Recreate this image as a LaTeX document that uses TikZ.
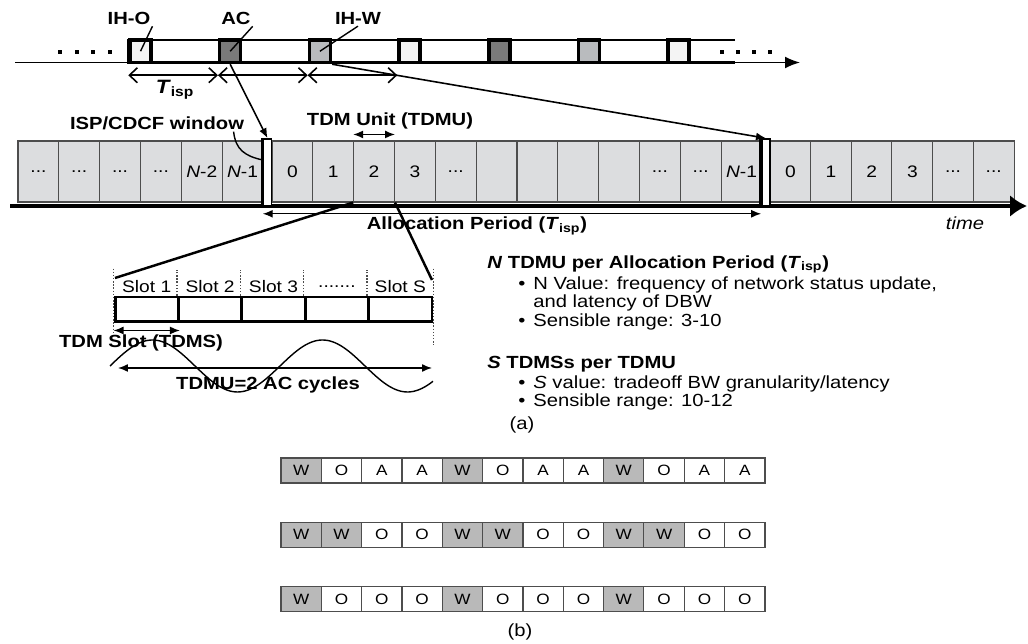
\documentclass[tikz,border=0pt]{standalone}
\usepackage{fontspec}
\setmainfont{Liberation Sans}[FakeStretch=1.15]
\usetikzlibrary{arrows.meta, positioning, calc}
\definecolor{ihLight}{HTML}{F4F4F4}
\definecolor{acDark}{HTML}{7A7A7A}
\definecolor{ihMid}{HTML}{B9BBBE}
\definecolor{cellGray}{HTML}{DCDDDF}
\definecolor{cellEdge}{HTML}{4D4D4D}
\definecolor{wGray}{HTML}{B9B9B9}
\newcommand{\ddd}{...}
\newcommand{\sdots}{.......}

\begin{document}
\begin{tikzpicture}[x=0.02cm, y=-0.02cm,
  blk/.style={draw, line width=2pt, minimum width=0.42cm, minimum height=0.45cm, inner sep=0pt},
  cell/.style={draw=cellEdge, fill=cellGray, line width=0.6pt, minimum width=0.816cm, minimum height=1.22cm, inner sep=0pt, font=\fontsize{9.5}{11}\selectfont},
  win/.style={draw, fill=white, line width=0.9pt, minimum width=0.16cm, minimum height=1.34cm, inner sep=0pt},
  lbl/.style={font=\bfseries\fontsize{10}{12}\selectfont, inner sep=1pt},
  slot/.style={draw, line width=1.7pt, minimum width=1.268cm, minimum height=0.5cm, inner sep=0pt},
  slotlbl/.style={font=\fontsize{9.5}{11}\selectfont, inner sep=0pt},
  bcell/.style={draw=cellEdge, line width=0.6pt, minimum width=0.807cm, minimum height=0.5cm, inner sep=0pt, font=\fontsize{8.5}{10}\selectfont},
  cellW/.style={fill=wGray}, cellO/.style={fill=white}, cellA/.style={fill=white},
  hd/.style={font=\bfseries\fontsize{10}{12}\selectfont, anchor=west, inner sep=0pt, text height=1.8ex, text depth=0.5ex},
  txt/.style={font=\fontsize{10}{12}\selectfont, anchor=west, inner sep=0pt, text height=1.8ex, text depth=0.5ex},
  barb/.style={line width=0.9pt, {Straight Barb[length=1.6mm,width=3mm]}-{Straight Barb[length=1.6mm,width=3mm]}},
  dbl/.style={line width=0.8pt, {Latex[length=2mm,width=1.6mm]}-{Latex[length=2mm,width=1.6mm]}},
  ptr/.style={line width=0.9pt, -{Latex[length=2mm,width=1.6mm]}},
  lead/.style={line width=0.8pt},
  guide/.style={densely dotted, line width=0.8pt, black!70},
]
  \useasboundingbox (0,0) rectangle (1028,644);

  \draw[line width=1pt, -{Latex[length=3mm,width=2.4mm]}] (15,62.5) -- (800,62.5);
  \draw[line width=1.5pt] (735,40) -- (128,40) -- (128,62.5) -- (735,62.5);
  \foreach \c [count=\i from 0] in {ihLight,acDark,ihMid,ihLight,acDark,ihMid,ihLight}
    \node[blk, fill=\c] (b\i) at ({140.5+89.7*\i},51.25) {};
  \foreach \x in {60,76.7,93.3,110,722,738,754,770}
    \fill (\x-2,50) rectangle (\x+2,54);

  \node[lbl] (iho) at (129,18) {IH-O};
  \node[lbl] (ac) at (236,18) {AC};
  \node[lbl] (ihw) at (358,18) {IH-W};
  \draw[lead] (iho.south east) -- (b0.center);
  \draw[lead] (ac.south east) -- (b1.center);
  \draw[lead] (ihw.south) -- (b2.center);

  \foreach \i/\j in {0/1,1/2,2/3}
    \draw[barb] ([yshift=-0.22cm]b\i.south west) -- ([yshift=-0.22cm]b\j.south west);
  \node[lbl, font=\bfseries\fontsize{11}{13}\selectfont] (tisp) at (175,90) {\textit{T}\textsubscript{isp}};

  \foreach \t [count=\i from 0] in {\ddd,\ddd,\ddd,\ddd,\textit{N}-2,\textit{N}-1}
    \node[cell] (l\i) at ({18+40.83*(\i+0.5)},171.5) {\t};
  \foreach \t [count=\i from 0] in {0,1,2,3,\ddd,{},{},{},{},\ddd,\ddd,\textit{N}-1}
    \node[cell] (m\i) at ({272+40.83*(\i+0.5)},171.5) {\t};
  \foreach \t [count=\i from 0] in {0,1,2,3,\ddd,\ddd}
    \node[cell] (r\i) at ({770+40.67*(\i+0.5)},171.5) {\t};

  \draw[line width=1.8pt, -{Latex[length=3.4mm,width=4.4mm]}] (10,206) -- (1027,206);
  \node[win] (win1) at (267.5,172.5) {};
  \node[win] (win2) at (766,172.5) {};
  \draw[line width=2pt] (win1.north west) -- (win1.south west);
  \draw[line width=2pt] (win2.north west) -- (win2.south west);

  \draw[ptr] (b1.south) -- (win1.north);
  \draw[ptr] (b2.south east) -- (win2.north);

  \node[lbl] (winlbl) at (157,123) {ISP/CDCF window};
  \draw[lead] ([xshift=-0.25cm]winlbl.south east) .. controls +(2,18) and +(-18,-4) .. ([yshift=0.25cm]win1.west);
  \node[lbl] (tdmu) at (390,121) {TDM Unit (TDMU)};
  \draw[dbl] ([yshift=0.12cm]m2.north west) -- ([yshift=0.12cm]m2.north east);
  \draw[dbl] ([yshift=-0.14cm]win1.south west) -- ([yshift=-0.14cm]win2.south west);
  \node[lbl] (alloc) at (477,226) {Allocation Period (\textit{T}\textsubscript{isp})};
  \node[font=\itshape\fontsize{10}{12}\selectfont] (time) at (965,223) {time};

  \foreach \t [count=\i from 0] in {Slot 1,Slot 2,Slot 3,\sdots,Slot S} {
    \node[slot] (s\i) at ({115+63.4*(\i+0.5)},309.5) {};
    \node[slotlbl] (sl\i) at ({115+63.4*(\i+0.5)},287) {\t};
  }
  \foreach \i in {1,...,4}
    \draw[guide] (s\i.north west) -- ++(0,-26);
  \draw[guide] ([yshift=0.54cm]s0.north west) -- ([yshift=-0.2cm]s0.south west);
  \draw[guide] ([yshift=0.54cm]s4.north east) -- ([yshift=-0.42cm]s4.south east);

  \coordinate (sl) at (115,278);
  \coordinate (sr) at (432,280);
  \draw[line width=1.4pt] (m2.south west) -- (sl);
  \draw[line width=1.4pt] (m2.south east) -- (sr);

  \draw[dbl] ([yshift=-0.14cm]s0.south west) -- ([yshift=-0.14cm]s0.south east);
  \node[lbl] (tdms) at (141,343) {TDM Slot (TDMS)};
  \draw[line width=0.8pt, domain=110:433, samples=120, smooth] plot (\x, {366-26*sin(2.1176*(\x-110))});
  \coordinate (cy0) at (118,368);
  \coordinate (cy1) at (432,368);
  \draw[dbl] (cy0) -- (cy1);
  \node[lbl] (cyc) at (268,385) {TDMU=2 AC cycles};

  \node[hd] (hN) at (487,262) {\textit{N} TDMU per Allocation Period (\textit{T}\textsubscript{isp})};
  \node[txt] (n1) at (533,283) {N Value: frequency of network status update,};
  \node[txt] (n2) at (533,301) {and latency of DBW};
  \node[txt] (n3) at (533,320) {Sensible range: 3-10};
  \node[hd] (hS) at (487,362) {\textit{S} TDMSs per TDMU};
  \node[txt] (q1) at (533,382) {\textit{S} value: tradeoff BW granularity/latency};
  \node[txt] (q2) at (533,400) {Sensible range: 10-12};
  \foreach \y in {283,320,382,400}
    \node[txt] (bu\y) at (518,\y) {\textbullet};
  \node[txt, anchor=center] (capa) at (522,423) {(a)};

  \foreach \row [count=\r from 0] in {{W,O,A,A,W,O,A,A,W,O,A,A},{W,W,O,O,W,W,O,O,W,W,O,O},{W,O,O,O,W,O,O,O,W,O,O,O}}
    \foreach \c [count=\k from 0] in \row
      \node[bcell, cell\c] (c\r\k) at ({281+40.33*(\k+0.5)},{470.5+64.3*\r}) {\c};
  \node[txt, anchor=center] (capb) at (520,630) {(b)};
\end{tikzpicture}
\end{document}
